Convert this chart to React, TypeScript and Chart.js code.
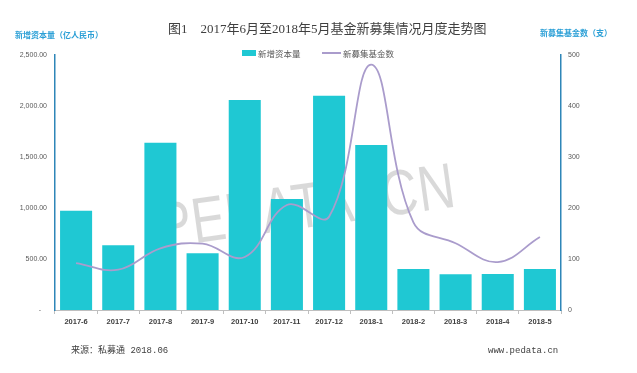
import React, { useEffect, useRef } from "react";
import { Chart, registerables } from "chart.js";

Chart.register(...registerables);

const months = [
  "2017-6", "2017-7", "2017-8", "2017-9", "2017-10", "2017-11",
  "2017-12", "2018-1", "2018-2", "2018-3", "2018-4", "2018-5",
];
const newCapital = [972, 634, 1640, 556, 2060, 1088, 2100, 1618, 402, 350, 353, 402];
const newFunds = [92, 79, 121, 130, 104, 206, 183, 481, 172, 131, 94, 143];

const BAR_COLOR = "#1FC8D3";
const LINE_COLOR = "#AA9CCC";
const AXIS_BLUE = "#2E86B8";
const TITLE_BLUE = "#2A9FD6";

export default function App() {
  const canvasRef = useRef<HTMLCanvasElement | null>(null);

  useEffect(() => {
    if (!canvasRef.current) return;
    const chart = new Chart(canvasRef.current, {
      type: "bar",
      data: {
        labels: months,
        datasets: [
          {
            type: "line",
            label: "新募集基金数",
            data: newFunds,
            yAxisID: "y1",
            borderColor: LINE_COLOR,
            backgroundColor: LINE_COLOR,
            borderWidth: 1.8,
            pointRadius: 0,
            tension: 0.4,
            order: 0,
          },
          {
            type: "bar",
            label: "新增资本量",
            data: newCapital,
            yAxisID: "y",
            backgroundColor: BAR_COLOR,
            categoryPercentage: 1,
            barPercentage: 0.76,
            order: 1,
          },
        ],
      },
      options: {
        animation: false,
        responsive: false,
        maintainAspectRatio: false,
        layout: { padding: { top: 55, left: 0, right: 0, bottom: 0 } },
        plugins: {
          legend: { display: false },
          title: { display: false },
          tooltip: { enabled: false },
        },
        scales: {
          x: {
            afterFit: (s: any) => { s.height = 63; },
            grid: {
              display: true,
              drawOnChartArea: false,
              offset: true,
              tickLength: 4,
              color: "#BFBFBF",
            },
            border: { color: "#BFBFBF", width: 1 },
            ticks: {
              padding: 3,
              color: "#404040",
              font: { family: "'Liberation Sans', 'Noto Sans CJK SC'", size: 7.5, weight: "bold" },
            },
          },
          y: {
            position: "left",
            min: 0,
            max: 2500,
            afterFit: (s: any) => { s.width = 55; },
            grid: { display: false, drawTicks: false },
            border: { color: AXIS_BLUE, width: 1.5 },
            ticks: {
              stepSize: 500,
              padding: 8,
              color: "#595959",
              font: { family: "'Liberation Sans', 'Noto Sans CJK SC'", size: 7 },
              callback: (v: any) =>
                Number(v) === 0
                  ? "-   "
                  : Number(v).toLocaleString("en-US", { minimumFractionDigits: 2, maximumFractionDigits: 2 }),
            },
          },
          y1: {
            position: "right",
            min: 0,
            max: 500,
            afterFit: (s: any) => { s.width = 76; },
            grid: { display: false, drawTicks: false },
            border: { color: AXIS_BLUE, width: 1.5 },
            ticks: {
              stepSize: 100,
              padding: 7,
              color: "#595959",
              font: { family: "'Liberation Sans', 'Noto Sans CJK SC'", size: 7 },
            },
          },
        },
      },
    });
    return () => chart.destroy();
  }, []);

  const abs = (extra: React.CSSProperties): React.CSSProperties => ({
    position: "absolute",
    whiteSpace: "pre",
    lineHeight: 1,
    ...extra,
  });

  return (
    <div
      style={{
        position: "absolute",
        left: 0,
        top: 0,
        width: 637,
        height: 373,
        background: "#fff",
        overflow: "hidden",
      }}
    >
      <div
        style={abs({
          left: 162,
          top: 194,
          fontFamily: "'Liberation Sans', Arial, sans-serif",
          fontSize: 64,
          color: "rgba(0,0,0,0.15)",
          transform: "rotate(-8deg) scaleX(0.8)",
          transformOrigin: "left bottom",
          zIndex: 0,
        })}
      >
        PEDATA. CN
      </div>
      <canvas
        ref={canvasRef}
        width={637}
        height={373}
        style={{ position: "absolute", left: 0, top: 0, zIndex: 1 }}
      />
      <div
        style={abs({
          left: 168,
          top: 22,
          fontFamily: "'Liberation Serif', 'Noto Sans CJK SC', serif",
          fontSize: 13,
          color: "#404040",
          zIndex: 2,
        })}
      >
        {"图1    2017年6月至2018年5月基金新募集情况月度走势图"}
      </div>
      <div
        style={abs({
          left: 15,
          top: 31,
          fontFamily: "'Noto Sans CJK SC', sans-serif",
          fontSize: 8,
          fontWeight: "bold",
          color: TITLE_BLUE,
          zIndex: 2,
        })}
      >
        新增资本量（亿人民币）
      </div>
      <div
        style={abs({
          left: 540,
          top: 29,
          fontFamily: "'Noto Sans CJK SC', sans-serif",
          fontSize: 8,
          fontWeight: "bold",
          color: TITLE_BLUE,
          zIndex: 2,
        })}
      >
        新募集基金数（支）
      </div>
      {/* legend */}
      <div style={abs({ left: 242, top: 50, width: 14, height: 6, background: BAR_COLOR, zIndex: 2 })} />
      <div
        style={abs({
          left: 258,
          top: 48.5,
          fontFamily: "'Noto Sans CJK SC', sans-serif",
          fontSize: 8.5,
          color: "#595959",
          zIndex: 2,
        })}
      >
        新增资本量
      </div>
      <div style={abs({ left: 322, top: 52, width: 19, height: 2, background: LINE_COLOR, zIndex: 2 })} />
      <div
        style={abs({
          left: 343,
          top: 48.5,
          fontFamily: "'Noto Sans CJK SC', sans-serif",
          fontSize: 8.5,
          color: "#595959",
          zIndex: 2,
        })}
      >
        新募集基金数
      </div>
      {/* footer */}
      <div
        style={abs({
          left: 71,
          top: 347,
          fontFamily: "'Liberation Mono', 'Noto Sans CJK SC', monospace",
          fontSize: 9,
          color: "#404040",
          zIndex: 2,
        })}
      >
        来源：私募通 2018.06
      </div>
      <div
        style={abs({
          left: 488,
          top: 347,
          fontFamily: "'Liberation Mono', monospace",
          fontSize: 9,
          color: "#404040",
          zIndex: 2,
        })}
      >
        www.pedata.cn
      </div>
    </div>
  );
}
